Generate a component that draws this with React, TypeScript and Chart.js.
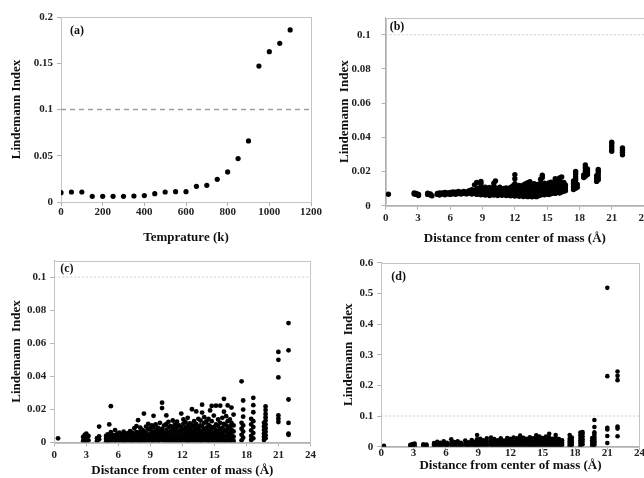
import React, { useEffect, useRef } from "react";
import { Chart, registerables } from "chart.js";
Chart.register(...registerables);

const FONT = "'Liberation Serif', 'Times New Roman', serif";

// ---------- Panel (a): Lindemann index vs temperature ----------
const tempK = [0, 50, 100, 150, 200, 250, 300, 350, 400, 450, 500, 550, 600, 650, 700, 750, 800, 850, 900, 950, 1000, 1050, 1100];
const lindemannA = [0.0101, 0.0108, 0.0108, 0.0061, 0.0061, 0.0061, 0.0061, 0.0065, 0.0069, 0.009, 0.0108, 0.0112, 0.0112, 0.017, 0.018, 0.0245, 0.0325, 0.047, 0.066, 0.147, 0.1625, 0.1715, 0.186];
const aXTicks = [0, 200, 400, 600, 800, 1000, 1200];
const aYTicks = [0, 0.05, 0.1, 0.15, 0.2];

// ---------- Panel (b): shells (x) and their indices ----------
const bShellX = [0.25, 2.65, 2.85, 3.05, 3.9, 4.15, 4.3, 4.8, 5.0, 5.25, 5.5, 5.75, 6.0, 6.25, 6.5, 6.75, 7.0, 7.25, 7.5, 7.75, 8.0, 8.25, 8.45, 8.65, 8.85, 9.05, 9.25, 9.45, 9.65, 9.85, 10.05, 10.2, 10.4, 10.6, 10.8, 11.0, 11.2, 11.4, 11.6, 11.8, 12.0, 12.2, 12.4, 12.6, 12.8, 13.0, 13.2, 13.4, 13.6, 13.8, 14.0, 14.2, 14.4, 14.55, 14.75, 14.95, 15.15, 15.35, 15.55, 15.75, 15.95, 16.15, 16.35, 16.55, 16.7, 17.45, 17.65, 17.8, 18.4, 18.55, 18.75, 19.6, 19.75, 21.0, 22.0];
const bShellY = [
  [0.0067],
  [0.0068, 0.0074], [0.0066, 0.0072], [0.006, 0.0066],
  [0.0066, 0.0073], [0.0062, 0.0068], [0.0058],
  [0.0066, 0.0072], [0.0063, 0.0075], [0.0068, 0.0074], [0.0064, 0.0077], [0.0069, 0.0075], [0.0066, 0.0078],
  [0.007, 0.0081], [0.0067, 0.0079], [0.0071, 0.0083], [0.0068, 0.0079], [0.0072, 0.0084], [0.0069, 0.0081], [0.0073, 0.0088],
  [0.0068, 0.0082, 0.0094], [0.0072, 0.0086, 0.0122], [0.0066, 0.0081, 0.0098, 0.0136], [0.007, 0.0088, 0.0104],
  [0.0064, 0.0079, 0.0096, 0.0128, 0.0142], [0.0068, 0.0085, 0.0102], [0.0062, 0.0078, 0.0094, 0.0108], [0.0066, 0.0083, 0.0101],
  [0.006, 0.0076, 0.0092, 0.0106], [0.0065, 0.0081, 0.0098], [0.0062, 0.0078, 0.0095, 0.0112, 0.0132], [0.0068, 0.0086, 0.0104, 0.0145],
  [0.006, 0.0076, 0.0093], [0.0066, 0.0082, 0.0099, 0.0108], [0.0061, 0.0078, 0.0095], [0.0067, 0.0084, 0.0101],
  [0.0059, 0.0075, 0.0092, 0.0104], [0.0064, 0.0081, 0.0098], [0.0058, 0.0074, 0.0091, 0.0106], [0.0063, 0.008, 0.0098, 0.0115],
  [0.0056, 0.0072, 0.0089, 0.0108, 0.0128, 0.0158, 0.0182], [0.0062, 0.0079, 0.0096, 0.0113], [0.0055, 0.0071, 0.0088, 0.0105, 0.0118],
  [0.006, 0.0077, 0.0094, 0.0111], [0.0054, 0.007, 0.0087, 0.0104, 0.0122], [0.0059, 0.0076, 0.0093, 0.011, 0.0128],
  [0.0053, 0.0069, 0.0086, 0.0103, 0.012, 0.0134], [0.0058, 0.0075, 0.0092, 0.0109, 0.0126, 0.0141], [0.0052, 0.0068, 0.0085, 0.0102, 0.0119],
  [0.0057, 0.0074, 0.0091, 0.0108, 0.0128], [0.0053, 0.007, 0.0087, 0.0104, 0.0121], [0.0058, 0.0075, 0.0092, 0.0109, 0.0126],
  [0.0062, 0.0079, 0.0096, 0.0113, 0.013, 0.0155], [0.0068, 0.0085, 0.0102, 0.0119, 0.0165, 0.0178], [0.0064, 0.0081, 0.0098, 0.0115, 0.0132],
  [0.0069, 0.0086, 0.0103, 0.012], [0.0065, 0.0082, 0.0099, 0.0116, 0.0133], [0.007, 0.0087, 0.0104, 0.0121, 0.0138],
  [0.0076, 0.0093, 0.011, 0.0127], [0.0072, 0.0089, 0.0106, 0.0123, 0.0145, 0.0158], [0.0078, 0.0095, 0.0112, 0.0129],
  [0.0074, 0.0091, 0.0108, 0.0125, 0.0148, 0.0162], [0.008, 0.0097, 0.0114, 0.0131, 0.0168], [0.0085, 0.0102, 0.0119, 0.0136],
  [0.0088, 0.0105, 0.0122],
  [0.0095, 0.0112, 0.0128, 0.0145], [0.0102, 0.0118, 0.0135, 0.0152, 0.0168, 0.0185, 0.02], [0.0108, 0.0125],
  [0.0165, 0.018], [0.0172, 0.0188, 0.0205, 0.0222, 0.0238], [0.0182, 0.0198, 0.0215],
  [0.0142, 0.0158, 0.0175], [0.0152, 0.0168, 0.0185, 0.02, 0.0212],
  [0.0318, 0.0332, 0.0347, 0.0362, 0.0372],
  [0.0298, 0.0312, 0.0325, 0.0338],
];

// ---------- Panel (c): shells (x) and their indices ----------
const cShellX = [0.35, 2.7, 2.85, 3.0, 3.2, 4.0, 4.2, 4.85, 5.0, 5.15, 5.3, 5.5, 5.7, 5.9, 6.1, 6.3, 6.5, 6.7, 6.9, 7.1, 7.3, 7.5, 7.7, 7.85, 8.05, 8.25, 8.4, 8.6, 8.8, 9.0, 9.15, 9.3, 9.5, 9.7, 9.9, 10.1, 10.3, 10.5, 10.7, 10.9, 11.1, 11.3, 11.5, 11.7, 11.9, 12.1, 12.3, 12.5, 12.7, 12.9, 13.1, 13.3, 13.5, 13.7, 13.85, 14.05, 14.25, 14.45, 14.6, 14.75, 14.95, 15.15, 15.35, 15.55, 15.75, 15.9, 16.1, 16.25, 16.45, 16.6, 16.8, 17.55, 17.7, 18.45, 18.65, 19.65, 19.8, 21.0, 21.95];
const cShellY = [
  [0.0024],
  [0.0008, 0.0032], [0.0018, 0.0045], [0.0005, 0.0028, 0.0052], [0.0012, 0.0038],
  [0.0008, 0.0025], [0.0018, 0.0036, 0.0095],
  [0.0004, 0.0022, 0.0038], [0.0012, 0.003, 0.0048], [0.0006, 0.0025, 0.0108], [0.0016, 0.0042, 0.0062, 0.0219],
  [0.0004, 0.0028, 0.0045], [0.0014, 0.0035, 0.0074], [0.0006, 0.0024, 0.0052], [0.0016, 0.0038, 0.0058],
  [0.0004, 0.0026, 0.0046], [0.0012, 0.0034, 0.0064], [0.0006, 0.0022, 0.0048], [0.0015, 0.0036, 0.0055],
  [0.0004, 0.0026, 0.0045, 0.0068], [0.0012, 0.0034, 0.0058], [0.0006, 0.0022, 0.0044, 0.0085], [0.0016, 0.0038, 0.0062, 0.0098],
  [0.0004, 0.0028, 0.0052, 0.0134], [0.0012, 0.0036, 0.0064, 0.0088], [0.0005, 0.0024, 0.0048, 0.0075], [0.0016, 0.0042, 0.0068, 0.0174],
  [0.0008, 0.0032, 0.0056, 0.0095], [0.0018, 0.0044, 0.0078, 0.0112], [0.0004, 0.0026, 0.0052, 0.0085], [0.0014, 0.0038, 0.0066, 0.0102],
  [0.0007, 0.0028, 0.0058, 0.0092, 0.016], [0.0018, 0.0045, 0.0072, 0.0108], [0.0005, 0.0032, 0.006, 0.0088], [0.0012, 0.0038, 0.0068, 0.0118],
  [0.0022, 0.0052, 0.0082, 0.0207, 0.024], [0.0006, 0.0034, 0.0062, 0.0102], [0.0016, 0.0046, 0.0075, 0.0112, 0.0163],
  [0.0004, 0.0028, 0.0058, 0.0092, 0.0124], [0.0014, 0.004, 0.0068, 0.0098], [0.0008, 0.0032, 0.0062, 0.0088, 0.0132],
  [0.0018, 0.0048, 0.0076, 0.0108], [0.0005, 0.0026, 0.0056, 0.0094, 0.0125], [0.0014, 0.0042, 0.007, 0.0102],
  [0.0008, 0.0034, 0.0064, 0.0092, 0.0174], [0.0018, 0.0046, 0.0078, 0.0112, 0.0138], [0.0004, 0.003, 0.0058, 0.0088, 0.0122],
  [0.0012, 0.004, 0.0068, 0.0098, 0.0148], [0.0006, 0.0026, 0.0054, 0.0084, 0.0115], [0.0016, 0.0044, 0.0072, 0.0104, 0.02],
  [0.0008, 0.0034, 0.0062, 0.0094, 0.0128], [0.0018, 0.0048, 0.0078, 0.011, 0.0187], [0.0005, 0.003, 0.0058, 0.0088, 0.0142],
  [0.0014, 0.0042, 0.007, 0.0102, 0.0132], [0.0008, 0.0036, 0.0064, 0.0096, 0.018, 0.0228], [0.0018, 0.0048, 0.0078, 0.0118, 0.0152],
  [0.0005, 0.0028, 0.0056, 0.0088, 0.0126], [0.0014, 0.0042, 0.0072, 0.0106, 0.0142], [0.0008, 0.0034, 0.0062, 0.0096, 0.0193],
  [0.0018, 0.0048, 0.0082, 0.0128, 0.022], [0.0005, 0.003, 0.0058, 0.0092, 0.0162], [0.0014, 0.0044, 0.0074, 0.0108, 0.0222],
  [0.0008, 0.0034, 0.0064, 0.0098, 0.0138], [0.0018, 0.0046, 0.0078, 0.0118, 0.0222], [0.0005, 0.0028, 0.0058, 0.0088, 0.0148],
  [0.0014, 0.0042, 0.0074, 0.0112, 0.0185, 0.0263], [0.0008, 0.0036, 0.0066, 0.0102, 0.0158], [0.0018, 0.0048, 0.0082, 0.0128, 0.0223],
  [0.0005, 0.003, 0.006, 0.0096, 0.0138], [0.0014, 0.0044, 0.0076, 0.0118, 0.021], [0.0008, 0.0034, 0.0066, 0.0102, 0.0168],
  [0.0012, 0.0045, 0.0082, 0.0118, 0.0369], [0.0028, 0.0065, 0.0102, 0.0155, 0.0198, 0.0253],
  [0.0014, 0.0038, 0.0072, 0.0108, 0.0142], [0.0024, 0.0056, 0.0092, 0.0128, 0.0182, 0.0225, 0.0269],
  [0.0014, 0.0032, 0.0052, 0.0074, 0.0096, 0.0118], [0.0024, 0.0042, 0.0064, 0.0085, 0.0108, 0.0132, 0.0152, 0.0172, 0.0195, 0.0217],
  [0.0123, 0.0143, 0.0163, 0.0393, 0.0499, 0.0547],
  [0.0045, 0.0052, 0.0117, 0.0259, 0.0557, 0.0722],
];

// ---------- Panel (d): shells (x) and their indices ----------
const dShellX = [0.25, 2.7, 2.9, 3.1, 3.9, 4.2, 4.9, 5.2, 5.5, 5.8, 6.1, 6.5, 6.8, 7.1, 7.4, 7.8, 8.1, 8.4, 8.7, 8.9, 9.2, 9.5, 9.8, 10.2, 10.5, 10.8, 11.1, 11.4, 11.7, 12.0, 12.3, 12.6, 12.9, 13.2, 13.5, 13.8, 14.1, 14.4, 14.7, 15.0, 15.3, 15.6, 15.9, 16.2, 16.5, 16.8, 17.5, 17.7, 18.5, 18.7, 19.6, 19.8, 21.0, 21.95];
const dShellY = [
  [0.003], [0.002, 0.006], [0.004, 0.009], [0.003, 0.01], [0.004, 0.008], [0.003, 0.007],
  [0.002, 0.008, 0.012], [0.005, 0.011, 0.016], [0.003, 0.008, 0.013], [0.004, 0.01, 0.018], [0.002, 0.007, 0.013],
  [0.005, 0.012, 0.024], [0.003, 0.009, 0.015], [0.005, 0.011, 0.018], [0.002, 0.008, 0.013], [0.004, 0.01, 0.02],
  [0.003, 0.008, 0.014], [0.005, 0.012, 0.022], [0.002, 0.009, 0.016], [0.005, 0.013, 0.024, 0.038],
  [0.003, 0.01, 0.018, 0.026], [0.006, 0.013, 0.021], [0.003, 0.01, 0.018, 0.027], [0.005, 0.012, 0.02, 0.03],
  [0.002, 0.009, 0.017, 0.025], [0.006, 0.013, 0.021], [0.003, 0.01, 0.018, 0.027], [0.005, 0.012, 0.02],
  [0.002, 0.009, 0.017, 0.028], [0.006, 0.013, 0.021, 0.026], [0.003, 0.01, 0.018, 0.03], [0.005, 0.012, 0.02, 0.027],
  [0.002, 0.009, 0.017, 0.025, 0.036], [0.006, 0.013, 0.021, 0.029], [0.003, 0.01, 0.018, 0.026], [0.005, 0.012, 0.02, 0.031],
  [0.002, 0.009, 0.017, 0.027], [0.006, 0.013, 0.021, 0.029, 0.037], [0.003, 0.01, 0.018, 0.026, 0.033], [0.005, 0.012, 0.02, 0.028],
  [0.002, 0.009, 0.017, 0.025, 0.033], [0.006, 0.013, 0.021, 0.03, 0.042], [0.003, 0.01, 0.018, 0.026], [0.005, 0.012, 0.02, 0.029, 0.038],
  [0.002, 0.009, 0.017, 0.025], [0.006, 0.013, 0.021],
  [0.003, 0.01, 0.018, 0.026, 0.038], [0.006, 0.014, 0.022, 0.03],
  [0.004, 0.012, 0.02, 0.028, 0.037, 0.046], [0.008, 0.016, 0.024, 0.033, 0.042, 0.048],
  [0.003, 0.009, 0.015, 0.021, 0.028], [0.006, 0.012, 0.018, 0.025, 0.032, 0.04, 0.047, 0.064, 0.087],
  [0.012, 0.035, 0.056, 0.062, 0.23, 0.518],
  [0.034, 0.059, 0.066, 0.217, 0.231, 0.245],
];

const distTicks = [0, 3, 6, 9, 12, 15, 18, 21, 24];
const smallYTicks = [0, 0.02, 0.04, 0.06, 0.08, 0.1];
const dYTicks = [0, 0.1, 0.2, 0.3, 0.4, 0.5, 0.6];
const threshold = 0.1;

const shellsToPoints = (xs: number[], ys: number[][]) =>
  xs.flatMap((x, i) => ys[i].map((y) => ({ x, y })));

type PanelCfg = {
  label: string;
  left: number; top: number; w: number; h: number;
  yAxisW: number; xAxisH: number; padTop: number; padRight: number;
  points: { x: number; y: number }[];
  radius: number;
  xMin: number; xMax: number; yMin: number; yMax: number;
  xTicks: number[]; yTicks: number[];
  xTitle: string; yTitle: string;
  xTitlePad: number; yTitlePad: number;
  yTickPad: number; xTickPad: number; xTickLen: number;
  lineDash: number[]; lineColor: string; lineWidth: number;
  labelDx: number; labelDy: number;
};

const AXIS = "#b0b0b0";
const TICK_FONT = { family: FONT, size: 11, weight: "bold" as const };
const TITLE_FONT = { family: FONT, size: 13, weight: "bold" as const };

const panels: PanelCfg[] = [
  {
    label: "(a)", left: 0, top: 0, w: 330, h: 250,
    yAxisW: 61, xAxisH: 48, padTop: 17, padRight: 19,
    points: tempK.map((x, i) => ({ x, y: lindemannA[i] })), radius: 2.6,
    xMin: 0, xMax: 1200, yMin: 0, yMax: 0.2, xTicks: aXTicks, yTicks: aYTicks,
    xTitle: "Temprature (k)", yTitle: "Lindemann Index",
    xTitlePad: 5, yTitlePad: 9, yTickPad: 4, xTickPad: 0, xTickLen: 4,
    lineDash: [5, 4], lineColor: "#a0a0a0", lineWidth: 1.5,
    labelDx: 9, labelDy: 14,
  },
  {
    label: "(b)", left: 330, top: 0, w: 330, h: 250,
    yAxisW: 55.7, xAxisH: 44.3, padTop: 17.3, padRight: 16,
    points: shellsToPoints(bShellX, bShellY), radius: 2.7,
    xMin: 0, xMax: 24, yMin: 0, yMax: 0.11, xTicks: distTicks, yTicks: smallYTicks,
    xTitle: "Distance from center of mass (Å)", yTitle: "Lindemann  Index",
    xTitlePad: 4, yTitlePad: 7, yTickPad: 11, xTickPad: 2, xTickLen: 4,
    lineDash: [2, 2], lineColor: "#cccccc", lineWidth: 1,
    labelDx: 4, labelDy: 9,
  },
  {
    label: "(c)", left: 0, top: 250, w: 330, h: 228,
    yAxisW: 54.3, xAxisH: 35.7, padTop: 9.3, padRight: 19.6,
    points: shellsToPoints(cShellX, cShellY), radius: 2.4,
    xMin: 0, xMax: 24, yMin: 0, yMax: 0.11, xTicks: distTicks, yTicks: smallYTicks,
    xTitle: "Distance from center of mass (Å)", yTitle: "Lindemann  Index",
    xTitlePad: 0, yTitlePad: 9, yTickPad: 4, xTickPad: 2, xTickLen: 4,
    lineDash: [2, 2], lineColor: "#cccccc", lineWidth: 1,
    labelDx: 6, labelDy: 8,
  },
  {
    label: "(d)", left: 330, top: 250, w: 330, h: 228,
    yAxisW: 51.3, xAxisH: 31.3, padTop: 12.7, padRight: 20.4,
    points: shellsToPoints(dShellX, dShellY), radius: 2.3,
    xMin: 0, xMax: 24, yMin: 0, yMax: 0.6, xTicks: distTicks, yTicks: dYTicks,
    xTitle: "Distance from center of mass (Å)", yTitle: "Lindemann  Index",
    xTitlePad: 5, yTitlePad: 10.5, yTickPad: 4, xTickPad: -3, xTickLen: 3,
    lineDash: [2, 2], lineColor: "#cccccc", lineWidth: 1,
    labelDx: 10, labelDy: 14,
  },
];

function Panel({ cfg }: { cfg: PanelCfg }) {
  const ref = useRef<HTMLCanvasElement | null>(null);
  useEffect(() => {
    if (!ref.current) return;
    const framePlugin = {
      id: "frame" + cfg.label.replace(/[()]/g, ""),
      beforeDatasetsDraw(chart: any) {
        const { ctx, chartArea: a } = chart;
        ctx.save();
        ctx.strokeStyle = "#c4c4c4";
        ctx.lineWidth = 1;
        ctx.strokeRect(Math.round(a.left) + 0.5, Math.round(a.top) + 0.5, Math.round(a.right - a.left), Math.round(a.bottom - a.top));
        ctx.restore();
      },
      afterDraw(chart: any) {
        const { ctx, chartArea: a } = chart;
        ctx.save();
        ctx.fillStyle = "#111";
        ctx.font = `bold 12px ${FONT}`;
        ctx.textBaseline = "middle";
        ctx.textAlign = "left";
        ctx.fillText(cfg.label, a.left + cfg.labelDx, a.top + cfg.labelDy);
        ctx.restore();
      },
    };
    const chart = new Chart(ref.current, {
      type: "scatter",
      data: {
        datasets: [
          {
            data: cfg.points,
            pointRadius: cfg.radius,
            pointBackgroundColor: "#000",
            pointBorderColor: "#000",
            pointBorderWidth: 0,
            showLine: false,
          },
          {
            data: [{ x: cfg.xMin, y: threshold }, { x: cfg.xMax, y: threshold }],
            showLine: true,
            borderColor: cfg.lineColor,
            borderWidth: cfg.lineWidth,
            borderDash: cfg.lineDash,
            pointRadius: 0,
          },
        ],
      },
      options: {
        animation: false,
        responsive: false,
        events: [],
        layout: { padding: { left: 0, top: cfg.padTop, right: cfg.padRight, bottom: 0 } },
        plugins: { legend: { display: false }, tooltip: { enabled: false } },
        scales: {
          x: {
            type: "linear",
            min: cfg.xMin,
            max: cfg.xMax,
            afterBuildTicks: (s: any) => { s.ticks = cfg.xTicks.map((v) => ({ value: v })); },
            afterFit: (s: any) => { s.height = cfg.xAxisH; },
            grid: { drawOnChartArea: false, drawTicks: true, tickLength: cfg.xTickLen, color: AXIS },
            border: { display: true, color: AXIS },
            ticks: { font: TICK_FONT, color: "#222", padding: cfg.xTickPad, maxRotation: 0, autoSkip: false, callback: (v: any) => String(v) },
            title: { display: true, text: cfg.xTitle, font: TITLE_FONT, color: "#111", padding: { top: 0, bottom: cfg.xTitlePad } },
          },
          y: {
            type: "linear",
            min: cfg.yMin,
            max: cfg.yMax,
            afterBuildTicks: (s: any) => { s.ticks = cfg.yTicks.map((v) => ({ value: v })); },
            afterFit: (s: any) => { s.width = cfg.yAxisW; },
            grid: { drawOnChartArea: false, drawTicks: true, tickLength: 4, color: AXIS },
            border: { display: true, color: AXIS },
            ticks: { font: TICK_FONT, color: "#222", padding: cfg.yTickPad, autoSkip: false, callback: (v: any) => String(v) },
            title: { display: true, text: cfg.yTitle, font: TITLE_FONT, color: "#111", padding: { top: cfg.yTitlePad, bottom: 0 } },
          },
        },
      },
      plugins: [framePlugin],
    } as any);
    return () => chart.destroy();
  }, [cfg]);
  return (
    <canvas
      ref={ref}
      width={cfg.w}
      height={cfg.h}
      style={{ position: "absolute", left: cfg.left, top: cfg.top, width: cfg.w, height: cfg.h }}
    />
  );
}

export default function App() {
  return (
    <div style={{ position: "fixed", left: 0, top: 0, width: 644, height: 478, overflow: "hidden", background: "#fff" }}>
      {panels.map((p) => (
        <Panel key={p.label} cfg={p} />
      ))}
    </div>
  );
}
